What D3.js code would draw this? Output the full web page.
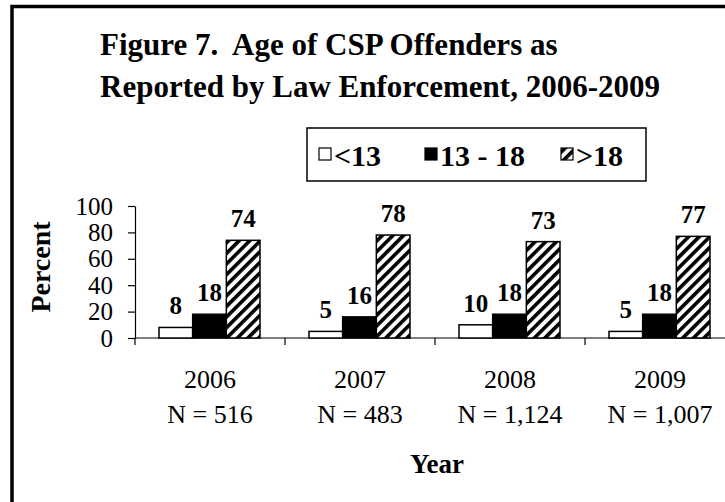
<!DOCTYPE html>
<html>
<head>
<meta charset="utf-8">
<script src="https://cdn.jsdelivr.net/npm/d3@7"></script>
<style>
  body { margin: 0; background: #fff; }
  text { font-family: "Liberation Serif", "Times New Roman", serif; fill: #000; }
</style>
</head>
<body>
<script>
// data
const years = ['2006', '2007', '2008', '2009'];
const sampleSizes = ['N = 516', 'N = 483', 'N = 1,124', 'N = 1,007'];
const seriesNames = ['<13', '13 - 18', '>18'];
const under13 = [8, 5, 10, 5];
const age13to18 = [18, 16, 18, 18];
const over18 = [74, 78, 73, 77];
const yTicks = [0, 20, 40, 60, 80, 100];

const seriesValues = [under13, age13to18, over18];
const fills = ['#fff', '#000', 'url(#hatch)'];

const svg = d3.select('body')
              .append('svg')
              .attr('width', 725)
              .attr('height', 502)
              .style('background', '#fff');

// diagonal hatch
const pat = svg.append('defs').append('pattern')
               .attr('id', 'hatch')
               .attr('patternUnits', 'userSpaceOnUse')
               .attr('width', 7.5).attr('height', 7.5)
               .attr('patternTransform', 'rotate(45)');
pat.append('rect').attr('width', 7.5).attr('height', 7.5).attr('fill', '#fff');
pat.append('rect').attr('width', 3.6).attr('height', 7.5).attr('fill', '#000');

// frame (left and top edges visible)
svg.append('path')
   .attr('d', 'M12,502 L12,6.5 L725,6.5')
   .attr('fill', 'none').attr('stroke', '#000').attr('stroke-width', 3.5);

// title
const title = svg.append('g').attr('transform', 'translate(100,0)');
title.append('text').attr('x', 0).attr('y', 55)
     .style('font-size', '31px').style('font-weight', 'bold').style('white-space', 'pre')
     .text('Figure 7.  Age of CSP Offenders as');
title.append('text').attr('x', 0).attr('y', 97)
     .style('font-size', '31px').style('font-weight', 'bold')
     .text('Reported by Law Enforcement, 2006-2009');

// legend
const legend = svg.append('g');
legend.append('rect').attr('x', 307).attr('y', 128).attr('width', 339).attr('height', 53)
      .attr('fill', '#fff').attr('stroke', '#000').attr('stroke-width', 1.5);
const legendX = [319, 425, 561];
seriesNames.forEach((s, i) => {
  legend.append('rect').attr('x', legendX[i]).attr('y', 148).attr('width', 12).attr('height', 12)
        .attr('fill', fills[i]).attr('stroke', '#000').attr('stroke-width', 1.2);
  legend.append('text').attr('x', legendX[i] + 15).attr('y', 166)
        .style('font-size', '30px').style('font-weight', 'bold')
        .text(s);
});

// scales
const x = d3.scaleBand().domain(years).range([135, 735]);
const xs = d3.scaleBand().domain(seriesNames).range([24, 125]);
const y = d3.scaleLinear().domain([0, 100]).range([338, 206]);

// y axis
const yAxis = svg.append('g').attr('transform', 'translate(135,0)')
                 .call(d3.axisLeft(y).tickValues(yTicks).tickSize(7).tickSizeOuter(0).tickPadding(15));
yAxis.select('.domain').attr('stroke', '#000').attr('stroke-width', 1.2);
yAxis.selectAll('.tick line').attr('stroke', '#000').attr('stroke-width', 1.2);
yAxis.selectAll('.tick text')
     .style('font-family', '"Liberation Serif", serif').style('font-size', '25px').attr('fill', '#000');

// x axis line with ticks at band boundaries
const xAxis = svg.append('g');
xAxis.append('line').attr('x1', 135).attr('x2', 725).attr('y1', y(0)).attr('y2', y(0))
     .attr('stroke', '#000').attr('stroke-width', 1.2);
years.forEach(yr => {
  xAxis.append('line').attr('x1', x(yr)).attr('x2', x(yr)).attr('y1', y(0)).attr('y2', y(0) + 7)
       .attr('stroke', '#000').attr('stroke-width', 1.2);
});

// bars
seriesValues.forEach((vals, si) => {
  const g = svg.append('g');
  g.selectAll('rect').data(vals).enter().append('rect')
   .attr('x', (d, i) => x(years[i]) + xs(seriesNames[si]))
   .attr('y', d => y(d))
   .attr('width', xs.bandwidth())
   .attr('height', d => y(0) - y(d))
   .attr('fill', fills[si])
   .attr('stroke', '#000').attr('stroke-width', 1.5);
  g.selectAll('text').data(vals).enter().append('text')
   .attr('x', (d, i) => x(years[i]) + xs(seriesNames[si]) + xs.bandwidth() / 2)
   .attr('y', d => y(d) - 13)
   .attr('text-anchor', 'middle')
   .style('font-size', '25px').style('font-weight', 'bold')
   .text(d => d);
});

// category labels
years.forEach((yr, i) => {
  const cx = x(yr) + x.bandwidth() / 2;
  svg.append('text').attr('x', cx).attr('y', 388).attr('text-anchor', 'middle')
     .style('font-size', '26px').text(yr);
  svg.append('text').attr('x', cx).attr('y', 423).attr('text-anchor', 'middle')
     .style('font-size', '26px').text(sampleSizes[i]);
});

// axis titles
svg.append('text').attr('x', 437).attr('y', 473).attr('text-anchor', 'middle')
   .style('font-size', '27px').style('font-weight', 'bold').text('Year');
svg.append('text').attr('transform', 'translate(50,267) rotate(-90)').attr('text-anchor', 'middle')
   .style('font-size', '28px').style('font-weight', 'bold').text('Percent');
</script>
</body>
</html>
